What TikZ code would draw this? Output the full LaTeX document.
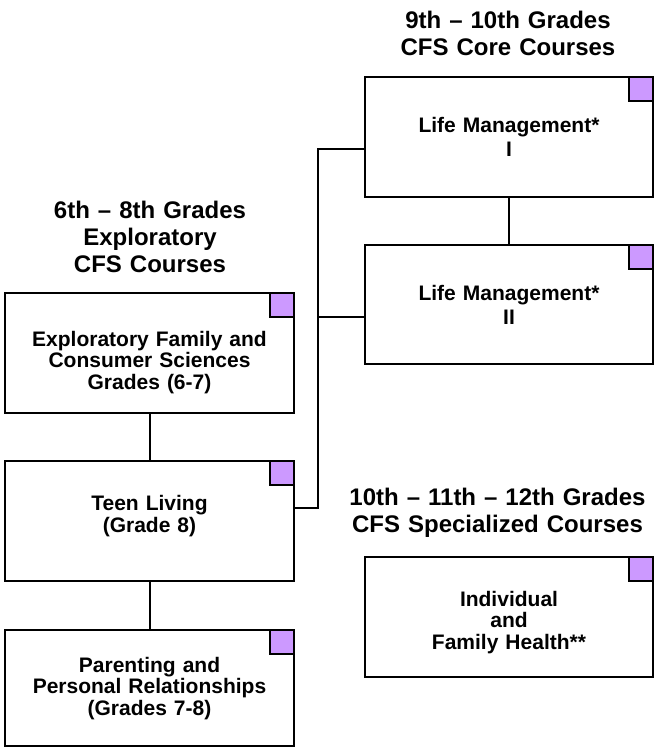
\documentclass[tikz,border=0pt]{standalone}
\usepackage{fontspec}
\setmainfont{Liberation Sans}
\definecolor{tagpurple}{HTML}{CC99FF}
\begin{document}
\begin{tikzpicture}[x=1pt,y=-1pt,
  box/.style={draw=black, line width=2pt, fill=white, inner sep=0pt, minimum height=120pt},
  lbox/.style={box, minimum width=289pt},
  rbox/.style={box, minimum width=288pt},
  tag/.style={draw=black, line width=1.6pt, fill=tagpurple, inner sep=0pt, minimum width=24pt, minimum height=24pt, anchor=north east},
  boxtext/.style={anchor=base, inner sep=0pt, text width=285pt, align=center, font=\bfseries\fontsize{21}{21.8}\selectfont},
  head/.style={anchor=base, inner sep=0pt, text width=330pt, align=center, font=\bfseries\fontsize{24}{27.3}\selectfont},
  conn/.style={draw=black, line width=2pt}
]
\useasboundingbox (0,0) rectangle (655,747);

% headings
\node[head] (h1) at (150,218) {6th -- 8th Grades\\Exploratory\\CFS Courses};
\node[head] (h2) at (508,28) {9th -- 10th Grades\\CFS Core Courses};
\node[head] (h3) at (497.5,505) {10th -- 11th -- 12th Grades\\CFS Specialized Courses};

% boxes
\node[rbox] (lm1) at (509,137) {};
\node[rbox, minimum height=119pt] (lm2) at (509,304.5) {};
\node[rbox] (ind) at (509,617) {};
\node[lbox] (exp) at (149.5,353) {};
\node[lbox] (teen) at (149.5,521) {};
\node[lbox, minimum height=116pt] (par) at (149.5,688) {};

% tags
\foreach \b in {lm1,lm2,ind,exp,teen,par}
  \node[tag] (\b-tag) at (\b.north east) {};

% texts
\node[boxtext] (lm1-t) at (509,132) {Life Management*\\[3pt]I};
\node[boxtext] (lm2-t) at (509,300) {Life Management*\\[3pt]II};
\node[boxtext] (ind-t) at (509,606) {Individual\\and\\Family Health**};
\node[boxtext] (exp-t) at (149.5,346) {Exploratory Family and\\Consumer Sciences\\Grades (6-7)};
\node[boxtext] (teen-t) at (149.5,510) {Teen Living\\[0.8pt](Grade 8)};
\node[boxtext] (par-t) at (149.5,672) {Parenting and\\Personal Relationships\\(Grades 7-8)};

% connectors
\coordinate (j1) at (318,149);
\coordinate (j2) at (318,317);
\coordinate (j3) at (318,508);
\draw[conn] (exp) -- (teen);
\draw[conn] (teen) -- (par);
\draw[conn] (lm1) -- (lm2);
\draw[conn] (j1 -| lm1.west) -- (j1) -- (j3) -- (j3 -| teen.east);
\draw[conn] (j2) -- (j2 -| lm2.west);
\end{tikzpicture}
\end{document}
